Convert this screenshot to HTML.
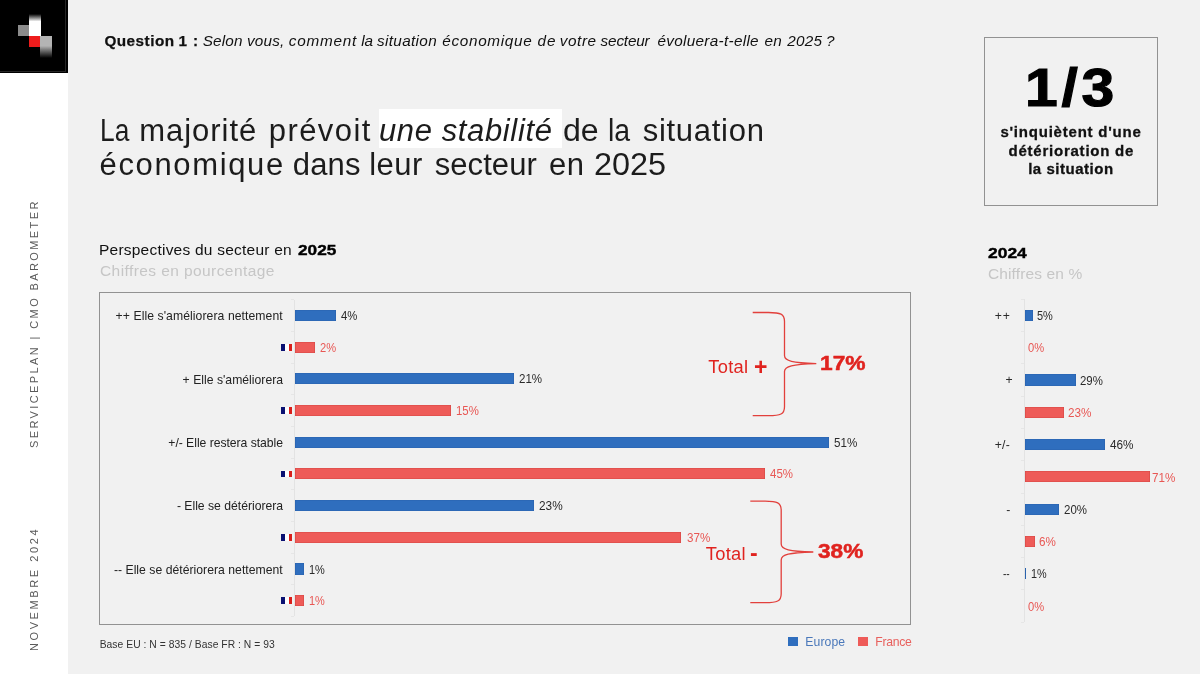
<!DOCTYPE html>
<html lang="fr"><head><meta charset="utf-8"><title>CMO Barometer</title>
<style>
html,body{margin:0;padding:0}
body{width:1200px;height:674px;position:relative;overflow:hidden;background:#f1f1f1;font-family:"Liberation Sans", sans-serif;}
.t{position:absolute;white-space:pre;line-height:1;}
.b{position:absolute;box-sizing:border-box;}
.g{margin:0;padding:0;font:inherit;display:block;position:static;}
.side{position:absolute;left:0;top:0;width:68px;height:674px;background:#fff;}
.logo{position:absolute;left:0;top:0;width:68px;height:73.3px;background:#000;box-sizing:border-box;border-right:2.2px solid #000;border-bottom:1.8px solid #000;box-shadow:inset -1px -1px 0 0 #262626;}
.v{position:absolute;white-space:pre;line-height:1;transform-origin:0 0;transform:rotate(-90deg);}
</style></head><body>
<div class="side"></div>
<div class="logo">
<div class="b" style="left:29px;top:14px;width:12px;height:22px;background:linear-gradient(#000,#fff 34%)"></div>
<div class="b" style="left:18px;top:25px;width:11px;height:11px;background:#8c8c8c"></div>
<div class="b" style="left:29px;top:36px;width:11px;height:11px;background:#ee1c1c"></div>
<div class="b" style="left:40px;top:36px;width:12px;height:22px;background:linear-gradient(#b4b4b4 45%,#000)"></div>
</div>
<div class="b" style="left:379.2px;top:108.75px;width:183.1px;height:39.25px;background:#fff"></div>
<div class="b" style="left:984px;top:36.5px;width:173.5px;height:169px;border:1px solid #929292"></div>
<div class="b" style="left:99.3px;top:292px;width:811.5px;height:332.6px;border:1px solid #929292"></div>

<div class="b" style="left:293.5px;top:299.7px;width:1px;height:316.8px;background:#e3e3e3"></div>
<div class="b" style="left:290.5px;top:299.20px;width:3px;height:1px;background:#e6e6e6"></div>
<div class="b" style="left:290.5px;top:330.88px;width:3px;height:1px;background:#e6e6e6"></div>
<div class="b" style="left:290.5px;top:362.56px;width:3px;height:1px;background:#e6e6e6"></div>
<div class="b" style="left:290.5px;top:394.24px;width:3px;height:1px;background:#e6e6e6"></div>
<div class="b" style="left:290.5px;top:425.92px;width:3px;height:1px;background:#e6e6e6"></div>
<div class="b" style="left:290.5px;top:457.60px;width:3px;height:1px;background:#e6e6e6"></div>
<div class="b" style="left:290.5px;top:489.28px;width:3px;height:1px;background:#e6e6e6"></div>
<div class="b" style="left:290.5px;top:520.96px;width:3px;height:1px;background:#e6e6e6"></div>
<div class="b" style="left:290.5px;top:552.64px;width:3px;height:1px;background:#e6e6e6"></div>
<div class="b" style="left:290.5px;top:584.32px;width:3px;height:1px;background:#e6e6e6"></div>
<div class="b" style="left:290.5px;top:616.00px;width:3px;height:1px;background:#e6e6e6"></div>
<div class="b" style="left:1023.5px;top:299.3px;width:1px;height:322.9px;background:#e3e3e3"></div>
<div class="b" style="left:1020.5px;top:298.80px;width:3px;height:1px;background:#e6e6e6"></div>
<div class="b" style="left:1020.5px;top:331.09px;width:3px;height:1px;background:#e6e6e6"></div>
<div class="b" style="left:1020.5px;top:363.38px;width:3px;height:1px;background:#e6e6e6"></div>
<div class="b" style="left:1020.5px;top:395.67px;width:3px;height:1px;background:#e6e6e6"></div>
<div class="b" style="left:1020.5px;top:427.96px;width:3px;height:1px;background:#e6e6e6"></div>
<div class="b" style="left:1020.5px;top:460.25px;width:3px;height:1px;background:#e6e6e6"></div>
<div class="b" style="left:1020.5px;top:492.54px;width:3px;height:1px;background:#e6e6e6"></div>
<div class="b" style="left:1020.5px;top:524.83px;width:3px;height:1px;background:#e6e6e6"></div>
<div class="b" style="left:1020.5px;top:557.12px;width:3px;height:1px;background:#e6e6e6"></div>
<div class="b" style="left:1020.5px;top:589.41px;width:3px;height:1px;background:#e6e6e6"></div>
<div class="b" style="left:1020.5px;top:621.70px;width:3px;height:1px;background:#e6e6e6"></div>
<div class="b" style="left:294.50px;top:309.90px;width:41.75px;height:11.2px;background:#2f6ebe;box-shadow:inset 0 0 0 0.6px #2a62ad"></div>
<div class="b" style="left:294.50px;top:341.58px;width:20.50px;height:11.2px;background:#ee5b58;box-shadow:inset 0 0 0 0.6px #d64845"></div>
<div class="b" style="left:294.50px;top:373.26px;width:219.25px;height:11.2px;background:#2f6ebe;box-shadow:inset 0 0 0 0.6px #2a62ad"></div>
<div class="b" style="left:294.50px;top:404.94px;width:156.75px;height:11.2px;background:#ee5b58;box-shadow:inset 0 0 0 0.6px #d64845"></div>
<div class="b" style="left:294.50px;top:436.62px;width:534.50px;height:11.2px;background:#2f6ebe;box-shadow:inset 0 0 0 0.6px #2a62ad"></div>
<div class="b" style="left:294.50px;top:468.30px;width:470.80px;height:11.2px;background:#ee5b58;box-shadow:inset 0 0 0 0.6px #d64845"></div>
<div class="b" style="left:294.50px;top:499.98px;width:239.80px;height:11.2px;background:#2f6ebe;box-shadow:inset 0 0 0 0.6px #2a62ad"></div>
<div class="b" style="left:294.50px;top:531.66px;width:386.80px;height:11.2px;background:#ee5b58;box-shadow:inset 0 0 0 0.6px #d64845"></div>
<div class="b" style="left:294.50px;top:563.34px;width:9.90px;height:11.2px;background:#2f6ebe;box-shadow:inset 0 0 0 0.6px #2a62ad"></div>
<div class="b" style="left:294.50px;top:595.02px;width:9.90px;height:11.2px;background:#ee5b58;box-shadow:inset 0 0 0 0.6px #d64845"></div>
<div class="b" style="left:1024.50px;top:309.80px;width:8.00px;height:11.2px;background:#2f6ebe;box-shadow:inset 0 0 0 0.6px #2a62ad"></div>
<div class="b" style="left:1024.50px;top:374.38px;width:51.00px;height:11.2px;background:#2f6ebe;box-shadow:inset 0 0 0 0.6px #2a62ad"></div>
<div class="b" style="left:1024.50px;top:406.67px;width:39.50px;height:11.2px;background:#ee5b58;box-shadow:inset 0 0 0 0.6px #d64845"></div>
<div class="b" style="left:1024.50px;top:438.96px;width:80.70px;height:11.2px;background:#2f6ebe;box-shadow:inset 0 0 0 0.6px #2a62ad"></div>
<div class="b" style="left:1024.50px;top:471.25px;width:125.50px;height:11.2px;background:#ee5b58;box-shadow:inset 0 0 0 0.6px #d64845"></div>
<div class="b" style="left:1024.50px;top:503.54px;width:34.50px;height:11.2px;background:#2f6ebe;box-shadow:inset 0 0 0 0.6px #2a62ad"></div>
<div class="b" style="left:1024.50px;top:535.83px;width:10.70px;height:11.2px;background:#ee5b58;box-shadow:inset 0 0 0 0.6px #d64845"></div>
<div class="b" style="left:1024.50px;top:568.12px;width:1.70px;height:11.2px;background:#2f6ebe;box-shadow:inset 0 0 0 0.6px #2a62ad"></div>
<div class="b" style="left:281.4px;top:343.78px;width:3.6px;height:6.8px;background:#0a1172"></div>
<div class="b" style="left:285px;top:343.78px;width:3.6px;height:6.8px;background:#fff"></div>
<div class="b" style="left:288.6px;top:343.78px;width:3.6px;height:6.8px;background:#d8201c"></div>
<div class="b" style="left:281.4px;top:407.14px;width:3.6px;height:6.8px;background:#0a1172"></div>
<div class="b" style="left:285px;top:407.14px;width:3.6px;height:6.8px;background:#fff"></div>
<div class="b" style="left:288.6px;top:407.14px;width:3.6px;height:6.8px;background:#d8201c"></div>
<div class="b" style="left:281.4px;top:470.50px;width:3.6px;height:6.8px;background:#0a1172"></div>
<div class="b" style="left:285px;top:470.50px;width:3.6px;height:6.8px;background:#fff"></div>
<div class="b" style="left:288.6px;top:470.50px;width:3.6px;height:6.8px;background:#d8201c"></div>
<div class="b" style="left:281.4px;top:533.86px;width:3.6px;height:6.8px;background:#0a1172"></div>
<div class="b" style="left:285px;top:533.86px;width:3.6px;height:6.8px;background:#fff"></div>
<div class="b" style="left:288.6px;top:533.86px;width:3.6px;height:6.8px;background:#d8201c"></div>
<div class="b" style="left:281.4px;top:597.22px;width:3.6px;height:6.8px;background:#0a1172"></div>
<div class="b" style="left:285px;top:597.22px;width:3.6px;height:6.8px;background:#fff"></div>
<div class="b" style="left:288.6px;top:597.22px;width:3.6px;height:6.8px;background:#d8201c"></div>
<div class="b" style="left:788.3px;top:636.7px;width:9.6px;height:9.6px;background:#2f6ebe"></div>
<div class="b" style="left:858.3px;top:636.7px;width:9.6px;height:9.6px;background:#ee5b58"></div>
<svg class="b" style="left:0;top:0" width="1200" height="674" viewBox="0 0 1200 674" fill="none" stroke="#e2403c" stroke-width="1.3">
<path d="M752.7 312.5 H768.5 C780.5 312.5 784.5 314.0 784.5 321.5 V355.6 C784.5 361.1 792.5 362.8 816.3 363.6 C792.5 364.40000000000003 784.5 366.1 784.5 371.6 V406.7 C784.5 414.2 780.5 415.7 768.5 415.7 H752.7"/>
<path d="M750.3 501.2 H765.2 C777.2 501.2 781.2 502.7 781.2 510.2 V544 C781.2 549.5 789.2 551.2 813.3 552 C789.2 552.8 781.2 554.5 781.2 560 V593.7 C781.2 601.2 777.2 602.7 765.2 602.7 H750.3"/>
</svg>
<p class="g question">
<span class="t" style="left:104.40px;top:32.75px;font-size:15.3px;font-weight:700;font-style:normal;-webkit-text-stroke:0.25px #111;color:#111;letter-spacing:0.486px;">Question</span>
<span class="t" style="left:178.62px;top:32.75px;font-size:15.3px;font-weight:700;font-style:normal;-webkit-text-stroke:0.25px #111;color:#111;letter-spacing:0.000px;">1</span>
<span class="t" style="left:193.00px;top:32.75px;font-size:15.3px;font-weight:700;font-style:normal;-webkit-text-stroke:0.25px #111;color:#111;letter-spacing:0.000px;">:</span>
<span class="t" style="left:202.75px;top:32.75px;font-size:15.3px;font-weight:400;font-style:italic;color:#111;letter-spacing:0.133px;">Selon</span>
<span class="t" style="left:246.90px;top:32.75px;font-size:15.3px;font-weight:400;font-style:italic;color:#111;letter-spacing:0.222px;">vous,</span>
<span class="t" style="left:288.75px;top:32.75px;font-size:15.3px;font-weight:400;font-style:italic;color:#111;letter-spacing:0.749px;">comment</span>
<span class="t" style="left:361.25px;top:32.75px;font-size:15.3px;font-weight:400;font-style:italic;color:#111;letter-spacing:-0.148px;">la</span>
<span class="t" style="left:376.90px;top:32.75px;font-size:15.3px;font-weight:400;font-style:italic;color:#111;letter-spacing:0.360px;">situation</span>
<span class="t" style="left:442.25px;top:32.75px;font-size:15.3px;font-weight:400;font-style:italic;color:#111;letter-spacing:0.685px;">économique</span>
<span class="t" style="left:537.50px;top:32.75px;font-size:15.3px;font-weight:400;font-style:italic;color:#111;letter-spacing:0.993px;">de</span>
<span class="t" style="left:559.75px;top:32.75px;font-size:15.3px;font-weight:400;font-style:italic;color:#111;letter-spacing:0.588px;">votre</span>
<span class="t" style="left:600.60px;top:32.75px;font-size:15.3px;font-weight:400;font-style:italic;color:#111;letter-spacing:-0.178px;">secteur</span>
<span class="t" style="left:657.50px;top:32.75px;font-size:15.3px;font-weight:400;font-style:italic;color:#111;letter-spacing:0.299px;">évoluera-t-elle</span>
<span class="t" style="left:764.40px;top:32.75px;font-size:15.3px;font-weight:400;font-style:italic;color:#111;letter-spacing:0.343px;">en</span>
<span class="t" style="left:787.25px;top:32.75px;font-size:15.3px;font-weight:400;font-style:italic;color:#111;letter-spacing:0.243px;">2025</span>
<span class="t" style="left:825.95px;top:32.75px;font-size:15.3px;font-weight:400;font-style:italic;color:#111;letter-spacing:0.000px;">?</span>
</p>
<h1 class="g title">
<span class="t" style="left:99.55px;top:114.51px;font-size:31px;font-weight:400;font-style:normal;color:#1c1c1c;letter-spacing:-0.000px;transform-origin:0 0;transform:scaleX(0.8499);">La</span>
<span class="t" style="left:139.25px;top:114.51px;font-size:31px;font-weight:400;font-style:normal;color:#1c1c1c;letter-spacing:0.962px;">majorité</span>
<span class="t" style="left:268.75px;top:114.51px;font-size:31px;font-weight:400;font-style:normal;color:#1c1c1c;letter-spacing:1.428px;">prévoit</span>
<span class="t" style="left:379.00px;top:114.51px;font-size:31px;font-weight:400;font-style:italic;color:#1c1c1c;letter-spacing:0.609px;">une</span>
<span class="t" style="left:441.70px;top:114.51px;font-size:31px;font-weight:400;font-style:italic;color:#1c1c1c;letter-spacing:0.641px;">stabilité</span>
<span class="t" style="left:563.26px;top:114.51px;font-size:31px;font-weight:400;font-style:normal;color:#1c1c1c;letter-spacing:0.000px;transform-origin:0 0;transform:scaleX(1.0360);">de</span>
<span class="t" style="left:608.16px;top:114.51px;font-size:31px;font-weight:400;font-style:normal;color:#1c1c1c;letter-spacing:-0.000px;transform-origin:0 0;transform:scaleX(0.9175);">la</span>
<span class="t" style="left:642.70px;top:114.51px;font-size:31px;font-weight:400;font-style:normal;color:#1c1c1c;letter-spacing:0.722px;">situation</span>
<span class="t" style="left:99.50px;top:148.76px;font-size:31px;font-weight:400;font-style:normal;color:#1c1c1c;letter-spacing:1.649px;">économique</span>
<span class="t" style="left:292.75px;top:148.76px;font-size:31px;font-weight:400;font-style:normal;color:#1c1c1c;letter-spacing:0.176px;">dans</span>
<span class="t" style="left:369.20px;top:148.76px;font-size:31px;font-weight:400;font-style:normal;color:#1c1c1c;letter-spacing:0.444px;">leur</span>
<span class="t" style="left:434.70px;top:148.76px;font-size:31px;font-weight:400;font-style:normal;color:#1c1c1c;letter-spacing:0.078px;">secteur</span>
<span class="t" style="left:548.90px;top:148.76px;font-size:31px;font-weight:400;font-style:normal;color:#1c1c1c;letter-spacing:0.559px;">en</span>
<span class="t" style="left:593.65px;top:148.76px;font-size:31px;font-weight:400;font-style:normal;color:#1c1c1c;letter-spacing:0.000px;transform-origin:0 0;transform:scaleX(1.0461);">2025</span>
</h1>
<aside class="g callout">
<span class="t" style="left:1025.03px;top:60.49px;font-size:54px;font-weight:700;font-style:normal;-webkit-text-stroke:1.2px #000;color:#000;letter-spacing:3.466px;transform-origin:0 0;transform:scaleX(1.0889);">1/3</span>
<span class="t" style="left:1000.40px;top:123.60px;font-size:15px;font-weight:700;font-style:normal;-webkit-text-stroke:0.3px #111;color:#111;letter-spacing:0.783px;">s'inquiètent d'une</span>
<span class="t" style="left:1008.60px;top:142.50px;font-size:15px;font-weight:700;font-style:normal;-webkit-text-stroke:0.3px #111;color:#111;letter-spacing:0.760px;">détérioration de</span>
<span class="t" style="left:1028.20px;top:161.10px;font-size:15px;font-weight:700;font-style:normal;-webkit-text-stroke:0.3px #111;color:#111;letter-spacing:0.517px;">la situation</span>
</aside>
<header class="g headings">
<span class="t" style="left:99.00px;top:241.88px;font-size:15.5px;font-weight:400;font-style:normal;color:#111;letter-spacing:0.226px;">Perspectives du secteur en</span>
<span class="t" style="left:297.50px;top:241.88px;font-size:15.5px;font-weight:700;font-style:normal;-webkit-text-stroke:0.4px #000;color:#000;letter-spacing:0.000px;transform-origin:0 0;transform:scaleX(1.1116);">2025</span>
<span class="t" style="left:100.00px;top:263.48px;font-size:15.5px;font-weight:400;font-style:normal;color:#c6c6c6;letter-spacing:0.419px;">Chiffres en pourcentage</span>
<span class="t" style="left:988.30px;top:244.68px;font-size:15.5px;font-weight:700;font-style:normal;-webkit-text-stroke:0.4px #000;color:#000;letter-spacing:0.000px;transform-origin:0 0;transform:scaleX(1.1245);">2024</span>
<span class="t" style="left:988.00px;top:265.78px;font-size:15.5px;font-weight:400;font-style:normal;color:#c6c6c6;letter-spacing:0.119px;">Chiffres en %</span>
</header>
<footer class="g footer">
<span class="t" style="left:99.70px;top:640.08px;font-size:10.3px;font-weight:400;font-style:normal;color:#333;letter-spacing:0.046px;">Base EU : N = 835 / Base FR : N = 93</span>
</footer>
<div class="g legend">
<span class="t" style="left:805.30px;top:635.97px;font-size:12.2px;font-weight:400;font-style:normal;color:#4a78ba;letter-spacing:0.096px;">Europe</span>
<span class="t" style="left:875.30px;top:635.97px;font-size:12.2px;font-weight:400;font-style:normal;color:#e8605d;letter-spacing:-0.291px;">France</span>
</div>
<section class="g chart2025">
<span class="t" style="left:115.60px;top:310.17px;font-size:12.2px;font-weight:400;font-style:normal;color:#222;letter-spacing:0.075px;">++ Elle s'améliorera nettement</span>
<span class="t" style="left:340.50px;top:310.07px;font-size:12.2px;font-weight:400;font-style:normal;color:#2a2a2a;letter-spacing:-0.000px;transform-origin:0 0;transform:scaleX(0.9281);">4%</span>
<span class="t" style="left:319.50px;top:341.75px;font-size:12.2px;font-weight:400;font-style:normal;color:#e85754;letter-spacing:-0.000px;transform-origin:0 0;transform:scaleX(0.9140);">2%</span>
<span class="t" style="left:182.60px;top:373.53px;font-size:12.2px;font-weight:400;font-style:normal;color:#222;letter-spacing:0.015px;">+ Elle s'améliorera</span>
<span class="t" style="left:518.75px;top:373.43px;font-size:12.2px;font-weight:400;font-style:normal;color:#2a2a2a;letter-spacing:-0.000px;transform-origin:0 0;transform:scaleX(0.9468);">21%</span>
<span class="t" style="left:456.25px;top:405.11px;font-size:12.2px;font-weight:400;font-style:normal;color:#e85754;letter-spacing:-0.000px;transform-origin:0 0;transform:scaleX(0.9366);">15%</span>
<span class="t" style="left:168.30px;top:436.89px;font-size:12.2px;font-weight:400;font-style:normal;color:#222;letter-spacing:-0.033px;">+/- Elle restera stable</span>
<span class="t" style="left:833.60px;top:436.79px;font-size:12.2px;font-weight:400;font-style:normal;color:#2a2a2a;letter-spacing:-0.000px;transform-origin:0 0;transform:scaleX(0.9529);">51%</span>
<span class="t" style="left:770.20px;top:468.47px;font-size:12.2px;font-weight:400;font-style:normal;color:#e85754;letter-spacing:-0.000px;transform-origin:0 0;transform:scaleX(0.9407);">45%</span>
<span class="t" style="left:176.90px;top:500.25px;font-size:12.2px;font-weight:400;font-style:normal;color:#222;letter-spacing:-0.009px;">- Elle se détériorera</span>
<span class="t" style="left:539.20px;top:500.15px;font-size:12.2px;font-weight:400;font-style:normal;color:#2a2a2a;letter-spacing:-0.000px;transform-origin:0 0;transform:scaleX(0.9692);">23%</span>
<span class="t" style="left:686.60px;top:531.83px;font-size:12.2px;font-weight:400;font-style:normal;color:#e85754;letter-spacing:-0.000px;transform-origin:0 0;transform:scaleX(0.9529);">37%</span>
<span class="t" style="left:113.90px;top:563.61px;font-size:12.2px;font-weight:400;font-style:normal;color:#222;letter-spacing:0.026px;">-- Elle se détériorera nettement</span>
<span class="t" style="left:309.40px;top:563.51px;font-size:12.2px;font-weight:400;font-style:normal;color:#2a2a2a;letter-spacing:-0.000px;transform-origin:0 0;transform:scaleX(0.9000);">1%</span>
<span class="t" style="left:309.40px;top:595.19px;font-size:12.2px;font-weight:400;font-style:normal;color:#e85754;letter-spacing:-0.000px;transform-origin:0 0;transform:scaleX(0.9000);">1%</span>
</section>
<section class="g totals">
<span class="t" style="left:708.30px;top:357.81px;font-size:18.3px;font-weight:400;font-style:normal;color:#e0231f;letter-spacing:0.262px;">Total</span>
<span class="t" style="left:753.90px;top:355.83px;font-size:23px;font-weight:700;font-style:normal;color:#e0231f;letter-spacing:0.000px;">+</span>
<span class="t" style="left:820.38px;top:352.72px;font-size:20.3px;font-weight:700;font-style:normal;-webkit-text-stroke:0.5px #e0231f;color:#e0231f;letter-spacing:0.000px;transform-origin:0 0;transform:scaleX(1.1224);">17%</span>
<span class="t" style="left:705.80px;top:545.21px;font-size:18.3px;font-weight:400;font-style:normal;color:#e0231f;letter-spacing:0.262px;">Total</span>
<span class="t" style="left:750.05px;top:542.03px;font-size:23px;font-weight:700;font-style:normal;color:#e0231f;letter-spacing:0.000px;">-</span>
<span class="t" style="left:817.80px;top:540.52px;font-size:20.3px;font-weight:700;font-style:normal;-webkit-text-stroke:0.5px #e0231f;color:#e0231f;letter-spacing:0.000px;transform-origin:0 0;transform:scaleX(1.1144);">38%</span>
</section>
<section class="g chart2024">
<span class="t" style="left:994.80px;top:309.87px;font-size:12.2px;font-weight:400;font-style:normal;color:#2a2a2a;letter-spacing:0.783px;">++</span>
<span class="t" style="left:1037.30px;top:310.07px;font-size:12.2px;font-weight:400;font-style:normal;color:#2a2a2a;letter-spacing:-0.000px;transform-origin:0 0;transform:scaleX(0.9000);">5%</span>
<span class="t" style="left:1028.40px;top:342.36px;font-size:12.2px;font-weight:400;font-style:normal;color:#e85754;letter-spacing:-0.000px;transform-origin:0 0;transform:scaleX(0.9169);">0%</span>
<span class="t" style="left:1005.50px;top:374.45px;font-size:12.2px;font-weight:400;font-style:normal;color:#2a2a2a;letter-spacing:0.000px;">+</span>
<span class="t" style="left:1080.00px;top:374.65px;font-size:12.2px;font-weight:400;font-style:normal;color:#2a2a2a;letter-spacing:-0.000px;transform-origin:0 0;transform:scaleX(0.9366);">29%</span>
<span class="t" style="left:1068.40px;top:406.94px;font-size:12.2px;font-weight:400;font-style:normal;color:#e85754;letter-spacing:-0.000px;transform-origin:0 0;transform:scaleX(0.9611);">23%</span>
<span class="t" style="left:994.80px;top:439.03px;font-size:12.2px;font-weight:400;font-style:normal;color:#2a2a2a;letter-spacing:0.198px;">+/-</span>
<span class="t" style="left:1109.70px;top:439.23px;font-size:12.2px;font-weight:400;font-style:normal;color:#2a2a2a;letter-spacing:-0.000px;transform-origin:0 0;transform:scaleX(0.9651);">46%</span>
<span class="t" style="left:1151.50px;top:471.52px;font-size:12.2px;font-weight:400;font-style:normal;color:#e85754;letter-spacing:-0.000px;transform-origin:0 0;transform:scaleX(0.9570);">71%</span>
<span class="t" style="left:1006.20px;top:503.61px;font-size:12.2px;font-weight:400;font-style:normal;color:#2a2a2a;letter-spacing:0.000px;">-</span>
<span class="t" style="left:1063.70px;top:503.81px;font-size:12.2px;font-weight:400;font-style:normal;color:#2a2a2a;letter-spacing:-0.000px;transform-origin:0 0;transform:scaleX(0.9407);">20%</span>
<span class="t" style="left:1039.30px;top:536.10px;font-size:12.2px;font-weight:400;font-style:normal;color:#e85754;letter-spacing:-0.000px;transform-origin:0 0;transform:scaleX(0.9562);">6%</span>
<span class="t" style="left:1003.00px;top:568.19px;font-size:12.2px;font-weight:400;font-style:normal;color:#2a2a2a;letter-spacing:-0.000px;transform-origin:0 0;transform:scaleX(0.8314);">--</span>
<span class="t" style="left:1031.00px;top:568.39px;font-size:12.2px;font-weight:400;font-style:normal;color:#2a2a2a;letter-spacing:-0.000px;transform-origin:0 0;transform:scaleX(0.8887);">1%</span>
<span class="t" style="left:1028.40px;top:600.68px;font-size:12.2px;font-weight:400;font-style:normal;color:#e85754;letter-spacing:-0.000px;transform-origin:0 0;transform:scaleX(0.9169);">0%</span>
</section>
<nav class="g sidebar">
<span class="v" style="left:29.49px;top:447.70px;font-size:11px;color:#5a5a5a;letter-spacing:2.390px">SERVICEPLAN | CMO BAROMETER</span>
<span class="v" style="left:29.19px;top:650.50px;font-size:11px;color:#5a5a5a;letter-spacing:2.595px">NOVEMBRE 2024</span>
</nav>
</body></html>
